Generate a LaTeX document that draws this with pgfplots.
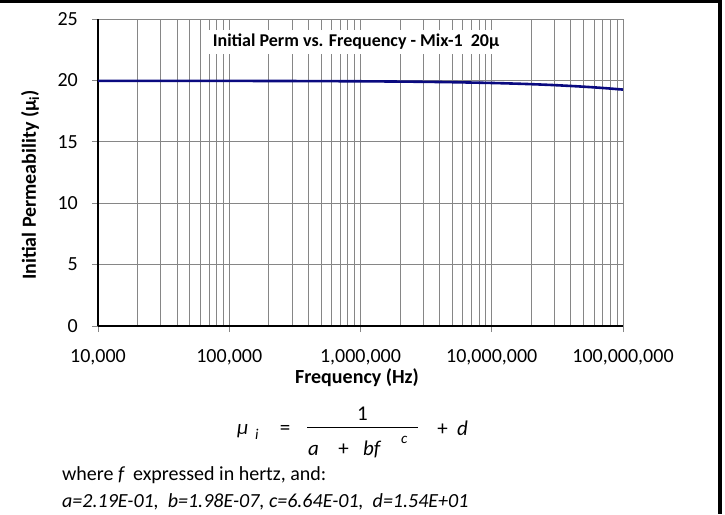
\documentclass[border=0pt]{standalone}
\usepackage{fontspec}
\setmainfont{Carlito}
\usepackage{pgfplots}
\pgfplotsset{compat=1.18}
\definecolor{gridc}{RGB}{134,134,134}
\definecolor{curvec}{RGB}{10,10,128}
\begin{document}
\begin{tikzpicture}[x=1pt,y=1pt]
\begin{axis}[
  at={(0,0)}, anchor=south west,
  scale only axis, width=525pt, height=307pt,
  xmode=log, xmin=1e4, xmax=1e8, ymin=0, ymax=25,
  ytick={0,5,10,15,20,25},
  xtick={1e4,1e5,1e6,1e7,1e8},
  xticklabels={{10,000},{100,000},{1,000,000},{10,000,000},{100,000,000}},
  axis lines=left, axis line style={-, black, line width=1.3pt},
  grid=both,
  major grid style={gridc, line width=0.7pt},
  minor grid style={gridc, line width=0.7pt},
  tick align=outside, major tick length=6pt, minor tick length=0pt,
  tick style={gridc, line width=0.7pt},
  ticklabel style={font=\fontsize{20}{24}\selectfont},
  /pgf/number format/assume math mode=true,
  yticklabel style={anchor=east, inner sep=0pt, xshift=-14pt},
  xticklabel style={anchor=base, inner sep=0pt, yshift=-30.5pt},
  clip=true,
]
\addplot[curvec, line width=2.6pt, smooth] coordinates {
(1e4,19.964) (3e4,19.962) (1e5,19.958) (3e5,19.948) (1e6,19.927)
(2e6,19.904) (3e6,19.885) (5e6,19.853) (1e7,19.790) (1.5e7,19.738)
(2e7,19.693) (3e7,19.615) (5e7,19.488) (7e7,19.383) (1e8,19.252)
};
\end{axis}
% title inside plot
\node[anchor=base, fill=white, inner sep=4pt, font=\bfseries\fontsize{18}{22}\selectfont] at (258,279) {Initial Perm vs. Frequency - Mix-1\ \ 20µ};
% axis labels
\node[anchor=base, font=\bfseries\fontsize{20}{24}\selectfont] at (259,-57) {Frequency (Hz)};
\node[anchor=base, rotate=90, font=\bfseries\fontsize{20}{24}\selectfont] at (-62,141) {Initial Permeability (µ\textsubscript{i})};
% formula
\begin{scope}[every node/.style={inner sep=0pt, font=\itshape\fontsize{21}{24}\selectfont}]
\node[anchor=base west] at (139,-108) {µ};
\node[anchor=base west, font=\itshape\fontsize{15}{15}\selectfont] at (157,-113) {i};
\node[anchor=base, font=\fontsize{21}{24}\selectfont] at (187,-108) {=};
\node[anchor=base, font=\fontsize{21}{24}\selectfont] at (264.5,-94) {1};
\node[anchor=base west] at (210,-129) {a};
\node[anchor=base, font=\fontsize{21}{24}\selectfont] at (245.5,-129) {+};
\node[anchor=base west] at (265,-129) {bf};
\node[anchor=base west, font=\itshape\fontsize{15}{15}\selectfont] at (303,-117) {c};
\node[anchor=base, font=\fontsize{21}{24}\selectfont] at (344.5,-109) {+};
\node[anchor=base west] at (359,-109) {d};
\end{scope}
\draw[black, line width=1pt] (209,-101) -- (320,-101);
\node[anchor=base west, inner sep=0pt, font=\fontsize{20}{24}\selectfont] at (-36,-154) {where \textit{f}\, expressed in hertz, and:};
\node[anchor=base west, inner sep=0pt, font=\itshape\fontsize{20}{24}\selectfont] at (-36,-181) {a=2.19E-01,\ \ b=1.98E-07,\ c=6.64E-01,\ \ d=1.54E+01};
% frame (top and right)
\fill[black] (-98,322.5) rectangle (624,326);
\fill[black] (620,-188) rectangle (624,326);
\pgfresetboundingbox
\useasboundingbox (-98,-188) rectangle (627,326);
\end{tikzpicture}
\end{document}
